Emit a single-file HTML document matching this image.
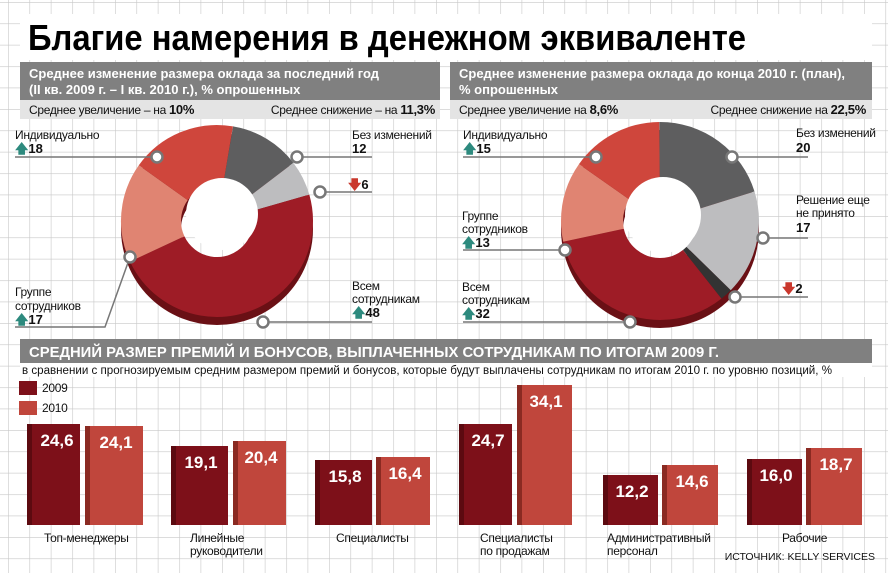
<!DOCTYPE html>
<html><head><meta charset="utf-8"><style>
body{margin:0;background:#fff}
svg{display:block;font-family:"Liberation Sans",sans-serif}
.t{font-size:12px;fill:#111;letter-spacing:-0.3px}
.b{font-size:13px;font-weight:bold;fill:#111}
.v{font-size:17px;font-weight:bold;fill:#fff}
</style></head><body>
<svg width="888" height="573" viewBox="0 0 888 573">
<defs>
<pattern id="g" width="21.4" height="21.4" patternUnits="userSpaceOnUse" x="8" y="2">
<path d="M0 0V21.4M0 0H21.4" stroke="#c8c8c8" stroke-width="1.2" fill="none"/>
</pattern>
</defs>
<rect width="888" height="573" fill="url(#g)"/>
<rect x="20" y="14" width="852" height="46" fill="#fff"/>
<text x="28" y="50" font-size="36" font-weight="bold" textLength="718" lengthAdjust="spacingAndGlyphs" fill="#000">Благие намерения в денежном эквиваленте</text>
<rect x="20" y="62" width="420" height="38" fill="#808080"/>
<rect x="20" y="100" width="420" height="19" fill="#e4e4e4"/>
<text x="29" y="78" font-size="13" font-weight="bold" fill="#fff">Среднее изменение размера оклада за последний год</text>
<text x="29" y="94" font-size="13" font-weight="bold" fill="#fff">(II кв. 2009 г. – I кв. 2010 г.), % опрошенных</text>
<text x="29" y="114" class="t">Среднее увеличение – на <tspan font-weight="bold" font-size="13">10%</tspan></text>
<text x="435" y="114" class="t" text-anchor="end">Среднее снижение – на <tspan font-weight="bold" font-size="13">11,3%</tspan></text>
<rect x="450" y="62" width="422" height="38" fill="#808080"/>
<rect x="450" y="100" width="422" height="19" fill="#e4e4e4"/>
<text x="459" y="78" font-size="13" font-weight="bold" fill="#fff">Среднее изменение размера оклада до конца 2010 г. (план),</text>
<text x="459" y="94" font-size="13" font-weight="bold" fill="#fff">% опрошенных</text>
<text x="459" y="114" class="t">Среднее увеличение на <tspan font-weight="bold" font-size="13">8,6%</tspan></text>
<text x="866" y="114" class="t" text-anchor="end">Среднее снижение на <tspan font-weight="bold" font-size="13">22,5%</tspan></text>

<g transform="translate(217,229) rotate(-90)">
<circle r="66" fill="none" stroke="#6a1015" stroke-width="60"/>
</g>
<g transform="translate(217,221) rotate(-80)" fill="none" stroke-width="60">
<circle r="66" pathLength="101" stroke="#5e5e5f" stroke-dasharray="12 89" stroke-dashoffset="0"/>
<circle r="66" pathLength="101" stroke="#bdbdbf" stroke-dasharray="6 95" stroke-dashoffset="-12"/>
<circle r="66" pathLength="101" stroke="#9e1c26" stroke-dasharray="48 53" stroke-dashoffset="-18"/>
<circle r="66" pathLength="101" stroke="#e08472" stroke-dasharray="17 84" stroke-dashoffset="-66"/>
<circle r="66" pathLength="101" stroke="#cf463c" stroke-dasharray="18 83" stroke-dashoffset="-83"/>
</g>
<circle cx="222" cy="214" r="36" fill="#fff"/>
<g transform="translate(660,229) rotate(-90)">
<circle r="68" fill="none" stroke="#6a1015" stroke-width="62"/>
</g>
<g transform="translate(660,221) rotate(-90)" fill="none" stroke-width="62">
<circle r="68" pathLength="99" stroke="#5e5e5f" stroke-dasharray="20 79" stroke-dashoffset="0"/>
<circle r="68" pathLength="99" stroke="#bdbdbf" stroke-dasharray="17 82" stroke-dashoffset="-20"/>
<circle r="68" pathLength="99" stroke="#333" stroke-dasharray="2 97" stroke-dashoffset="-37"/>
<circle r="68" pathLength="99" stroke="#9e1c26" stroke-dasharray="32 67" stroke-dashoffset="-39"/>
<circle r="68" pathLength="99" stroke="#e08472" stroke-dasharray="13 86" stroke-dashoffset="-71"/>
<circle r="68" pathLength="99" stroke="#cf463c" stroke-dasharray="15 84" stroke-dashoffset="-84"/>
</g>
<circle cx="663" cy="215" r="38" fill="#fff"/>

<g stroke="#777" stroke-width="1.5" fill="none">
<path d="M15 157H157M297 157H372M320 192H372M130 257L105 327H15M263 322H372"/>
<path d="M463 157H596M732 157H808M763 238H808M463 250H565M735 297H808M463 322H630"/>
</g>
<g fill="#fff" stroke="#777" stroke-width="2.5">
<circle cx="157" cy="157" r="5.5"/><circle cx="297" cy="157" r="5.5"/><circle cx="320" cy="192" r="5.5"/><circle cx="130" cy="257" r="5.5"/><circle cx="263" cy="322" r="5.5"/>
<circle cx="596" cy="157" r="5.5"/><circle cx="732" cy="157" r="5.5"/><circle cx="763" cy="238" r="5.5"/><circle cx="565" cy="250" r="5.5"/><circle cx="735" cy="297" r="5.5"/><circle cx="630" cy="322" r="5.5"/>
</g>
<text x="15" y="139" class="t">Индивидуально</text>
<text x="15" y="153" class="b"><tspan fill="#2d8a7e">🡅</tspan>18</text>
<text x="352" y="139" class="t">Без изменений</text>
<text x="352" y="153" class="b">12</text>
<text x="348" y="189" class="b"><tspan fill="#c9372c">🡇</tspan>6</text>
<text x="15" y="296" class="t">Группе</text>
<text x="15" y="310" class="t">сотрудников</text>
<text x="15" y="324" class="b"><tspan fill="#2d8a7e">🡅</tspan>17</text>
<text x="352" y="290" class="t">Всем</text>
<text x="352" y="303" class="t">сотрудникам</text>
<text x="352" y="317" class="b"><tspan fill="#2d8a7e">🡅</tspan>48</text>
<text x="463" y="139" class="t">Индивидуально</text>
<text x="463" y="153" class="b"><tspan fill="#2d8a7e">🡅</tspan>15</text>
<text x="796" y="137" class="t">Без изменений</text>
<text x="796" y="152" class="b">20</text>
<text x="796" y="204" class="t">Решение еще</text>
<text x="796" y="217" class="t">не принято</text>
<text x="796" y="232" class="b">17</text>
<text x="782" y="293" class="b"><tspan fill="#c9372c">🡇</tspan>2</text>
<text x="462" y="220" class="t">Группе</text>
<text x="462" y="233" class="t">сотрудников</text>
<text x="462" y="247" class="b"><tspan fill="#2d8a7e">🡅</tspan>13</text>
<text x="462" y="291" class="t">Всем</text>
<text x="462" y="304" class="t">сотрудникам</text>
<text x="462" y="318" class="b"><tspan fill="#2d8a7e">🡅</tspan>32</text>

<rect x="20" y="339" width="852" height="24" fill="#808080"/>
<text x="29" y="357" font-size="15" font-weight="bold" fill="#fff" textLength="690" lengthAdjust="spacingAndGlyphs">СРЕДНИЙ РАЗМЕР ПРЕМИЙ И БОНУСОВ, ВЫПЛАЧЕННЫХ СОТРУДНИКАМ ПО ИТОГАМ 2009 Г.</text>
<rect x="20" y="363" width="852" height="14" fill="#fff"/>
<text x="22" y="374" font-size="11.5" fill="#111" textLength="810" lengthAdjust="spacingAndGlyphs">в сравнении с прогнозируемым средним размером премий и бонусов, которые будут выплачены сотрудникам по итогам 2010 г. по уровню позиций, %</text>
<rect x="19" y="381" width="18" height="14" fill="#7d1019"/><text x="42" y="392" class="t">2009</text>
<rect x="19" y="401" width="18" height="14" fill="#c0463c"/><text x="42" y="412" class="t">2010</text>

<g>
<rect x="27" y="424" width="53" height="101" fill="#7d1019"/><rect x="27" y="424" width="5" height="101" fill="#5c0a10"/>
<rect x="85" y="426" width="58" height="99" fill="#c0463c"/><rect x="85" y="426" width="5" height="99" fill="#8a2a22"/>
<rect x="171" y="446" width="57" height="79" fill="#7d1019"/><rect x="171" y="446" width="5" height="79" fill="#5c0a10"/>
<rect x="233" y="441" width="53" height="84" fill="#c0463c"/><rect x="233" y="441" width="5" height="84" fill="#8a2a22"/>
<rect x="315" y="460" width="57" height="65" fill="#7d1019"/><rect x="315" y="460" width="5" height="65" fill="#5c0a10"/>
<rect x="376" y="457" width="54" height="68" fill="#c0463c"/><rect x="376" y="457" width="5" height="68" fill="#8a2a22"/>
<rect x="459" y="424" width="53" height="101" fill="#7d1019"/><rect x="459" y="424" width="5" height="101" fill="#5c0a10"/>
<rect x="517" y="385" width="55" height="140" fill="#c0463c"/><rect x="517" y="385" width="5" height="140" fill="#8a2a22"/>
<rect x="603" y="475" width="55" height="50" fill="#7d1019"/><rect x="603" y="475" width="5" height="50" fill="#5c0a10"/>
<rect x="662" y="465" width="56" height="60" fill="#c0463c"/><rect x="662" y="465" width="5" height="60" fill="#8a2a22"/>
<rect x="747" y="459" width="55" height="66" fill="#7d1019"/><rect x="747" y="459" width="5" height="66" fill="#5c0a10"/>
<rect x="806" y="448" width="56" height="77" fill="#c0463c"/><rect x="806" y="448" width="5" height="77" fill="#8a2a22"/>
</g>
<g class="v" text-anchor="middle">
<text x="57" y="446">24,6</text><text x="116" y="448">24,1</text>
<text x="201" y="468">19,1</text><text x="261" y="463">20,4</text>
<text x="345" y="482">15,8</text><text x="405" y="479">16,4</text>
<text x="488" y="446">24,7</text><text x="546" y="407">34,1</text>
<text x="632" y="497">12,2</text><text x="692" y="487">14,6</text>
<text x="776" y="481">16,0</text><text x="836" y="470">18,7</text>
</g>
<g class="t">
<text x="44" y="542">Топ-менеджеры</text>
<text x="190" y="542">Линейные</text><text x="190" y="555">руководители</text>
<text x="336" y="542">Специалисты</text>
<text x="480" y="542">Специалисты</text><text x="480" y="555">по продажам</text>
<text x="607" y="542">Административный</text><text x="607" y="555">персонал</text>
<text x="782" y="542">Рабочие</text>
</g>
<text x="875" y="560" font-size="10.5" fill="#111" text-anchor="end">ИСТОЧНИК: KELLY SERVICES</text>
</svg>
</body></html>
